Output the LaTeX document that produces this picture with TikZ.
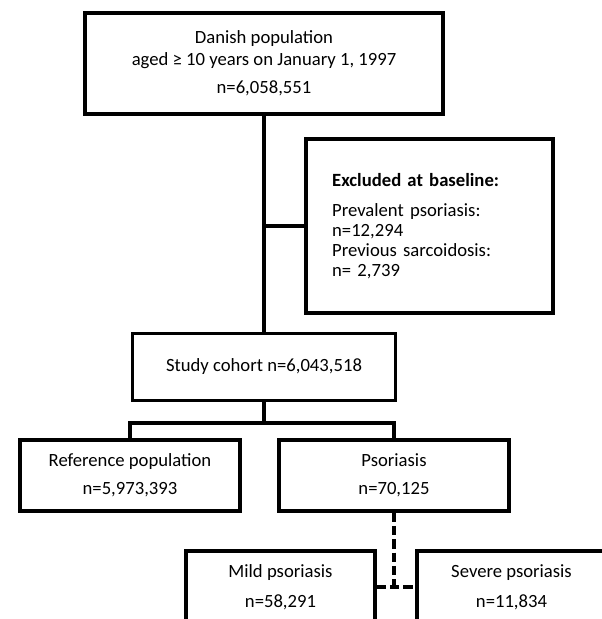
\documentclass[tikz,border=0pt]{standalone}
\usepackage{fontspec}
\setmainfont{Carlito}

\tikzset{
  box/.style={draw, line width=2.4pt, inner sep=0pt, align=center,
    font=\fontsize{14}{16.5}\selectfont},
  link/.style={line width=2.4pt},
  dashlink/.style={line width=2.4pt, dash pattern=on 7pt off 3pt},
}

\begin{document}
\begin{tikzpicture}[x=0.75pt, y=-0.75pt]
\useasboundingbox (0,0) rectangle (602,619);

%Danish population
\node[box, minimum width=268.5pt, minimum height=75.75pt] (pop) at (264,63.5)
  {Danish population\\aged ≥ 10 years on January 1, 1997\\[4.5pt]n=6,058,551};

%Excluded at baseline
\node[box, minimum width=185.25pt, minimum height=130.5pt, align=left, text width=146pt,
  font=\fontsize{14}{15}\selectfont] (excl) at (429.5,226)
  {\textbf{Excluded at baseline:}\\[7.5pt]Prevalent psoriasis:\\n=12,294\\Previous sarcoidosis:\\n= 2,739};

%Study cohort
\node[box, minimum width=197.25pt, minimum height=50pt] (study) at (264,367) {Study cohort n=6,043,518};
\coordinate (bus) at (264,423);

%Reference / Psoriasis
\node[box, minimum width=165pt, minimum height=53.25pt] (ref) at (130,475.5) {Reference population\\[4.5pt]n=5,973,393};
\node[box, minimum width=172.5pt, minimum height=53.25pt] (psor) at (394,475.5) {Psoriasis\\[4.5pt]n=70,125};

%Mild / Severe
\node[box, minimum width=141.75pt, minimum height=54pt] (mild) at (280.5,587) {Mild psoriasis\\[6pt]n=58,291};
\node[box, minimum width=141.75pt, minimum height=54pt] (sev) at (511.5,587) {Severe psoriasis\\[6pt]n=11,834};

\draw[link] (pop) -- (study);
\draw[link] (pop.south |- excl.west) -- (excl.west);
\draw[link] (study) -- (bus);
\draw[link] (ref.north) |- (bus) -| (psor.north);

\draw[dashlink] (psor.south) -- (psor.south |- mild.east);
\draw[dashlink] (mild.east) -- (sev.west);
\end{tikzpicture}
\end{document}
